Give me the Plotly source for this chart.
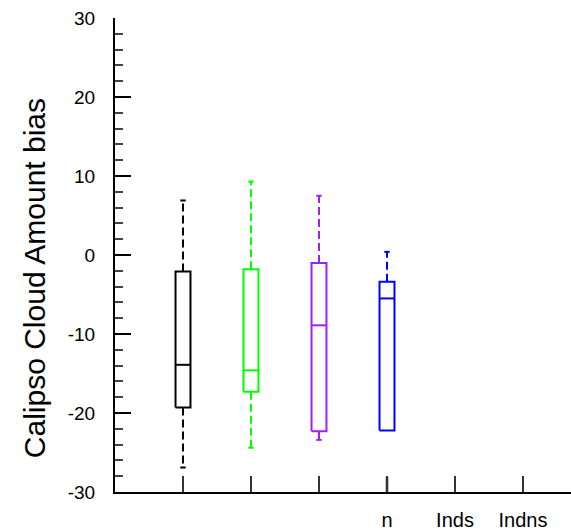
import plotly.graph_objects as go

# Data
positions = [1, 2, 3, 4, 5, 6]
tick_labels = ["", "", "", "n", "Inds", "Indns"]
y_ticks = [-30, -20, -10, 0, 10, 20, 30]
y_tick_labels = ["-30", "-20", "-10", "0", "10", "20", "30"]
y_title = "Calipso Cloud Amount bias"
box_pos = [1, 2, 3, 4]
colors = ["#000000", "#00ff00", "#a020f0", "#0000ff"]
upper = [6.9, 9.3, 7.5, 0.4]
q3 = [-2.1, -1.8, -1.0, -3.4]
median = [-13.9, -14.6, -8.9, -5.5]
q1 = [-19.3, -17.3, -22.3, -22.2]
lower = [-26.9, -24.4, -23.4, None]
blue_tail = [-28.1, -30.0]

half_w = 0.11
cap_w = 0.04

fig = go.Figure()
for i, x in enumerate(box_pos):
    c = colors[i]
    fig.add_trace(go.Scatter(
        x=[x - half_w, x + half_w, x + half_w, x - half_w, x - half_w],
        y=[q1[i], q1[i], q3[i], q3[i], q1[i]],
        mode="lines", line=dict(color=c, width=2), showlegend=False, hoverinfo="skip"))
    fig.add_trace(go.Scatter(
        x=[x - half_w, x + half_w], y=[median[i], median[i]],
        mode="lines", line=dict(color=c, width=2), showlegend=False, hoverinfo="skip"))
    fig.add_trace(go.Scatter(
        x=[x, x], y=[q3[i], upper[i]],
        mode="lines", line=dict(color=c, width=2, dash="8px,4px"), showlegend=False, hoverinfo="skip"))
    fig.add_trace(go.Scatter(
        x=[x - cap_w, x + cap_w], y=[upper[i], upper[i]],
        mode="lines", line=dict(color=c, width=2), showlegend=False, hoverinfo="skip"))
    if lower[i] is not None:
        fig.add_trace(go.Scatter(
            x=[x, x], y=[q1[i], lower[i]],
            mode="lines", line=dict(color=c, width=2, dash="8px,4px"), showlegend=False, hoverinfo="skip"))
        fig.add_trace(go.Scatter(
            x=[x - cap_w, x + cap_w], y=[lower[i], lower[i]],
            mode="lines", line=dict(color=c, width=2), showlegend=False, hoverinfo="skip"))

fig.add_trace(go.Scatter(
    x=[4, 4], y=blue_tail, mode="lines",
    line=dict(color="#101060", width=2.5), showlegend=False, hoverinfo="skip", cliponaxis=False))

fig.add_annotation(
    text=y_title, xref="paper", yref="paper", x=-0.175, y=0.4515,
    xanchor="center", yanchor="middle", textangle=-90, showarrow=False,
    font=dict(size=30, color="black"))

fig.update_layout(
    width=571, height=532,
    margin=dict(l=115, r=0, t=18, b=40),
    plot_bgcolor="white", paper_bgcolor="white",
    font=dict(family="Liberation Sans, Arial, sans-serif", color="black", size=19),
    xaxis=dict(
        range=[0, 6.706], tickmode="array", tickvals=positions, ticktext=tick_labels,
        ticks="inside", ticklen=16, tickwidth=2, tickcolor="#333333",
        showline=True, linecolor="black", linewidth=2, showgrid=False, zeroline=False,
        tickfont=dict(size=20), ticklabelstandoff=9,
    ),
    yaxis=dict(
        range=[-30, 30], tickmode="array", tickvals=y_ticks, ticktext=y_tick_labels,
        ticks="inside", ticklen=16, tickwidth=2, tickcolor="black",
        minor=dict(dtick=2, ticks="inside", ticklen=8, tickwidth=2, tickcolor="#444444"),
        showline=True, linecolor="black", linewidth=2, showgrid=False, zeroline=False,
        tickfont=dict(size=19), ticklabelstandoff=14,
    ),
)

fig.write_html("out.html")
